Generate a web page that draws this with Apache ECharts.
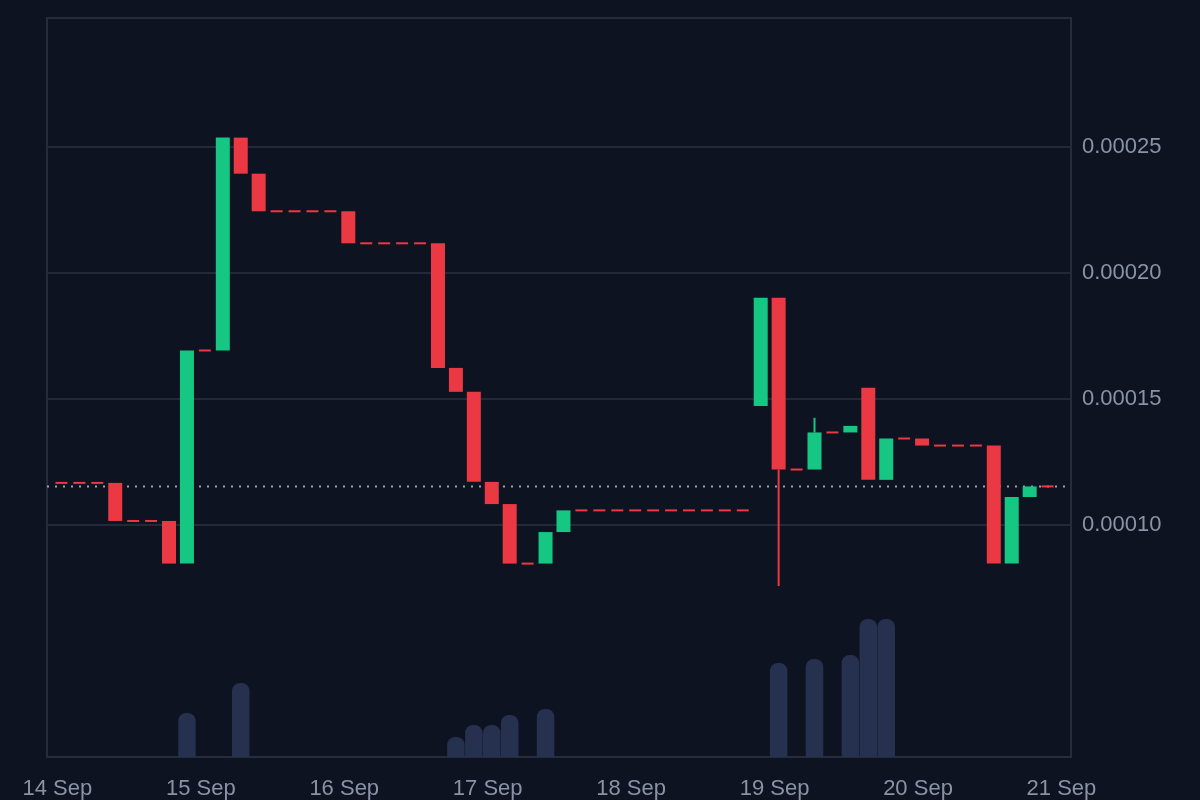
<!DOCTYPE html>
<html>
<head>
<meta charset="utf-8">
<script src="https://cdn.jsdelivr.net/npm/echarts@6/dist/echarts.min.js"></script>
<style>
html,body{margin:0;padding:0;background:#0d1320;}
#chart{width:1200px;height:800px;}
</style>
</head>
<body>
<div id="chart"></div>
<script>
// ---- data (3-hour candles) ----
const startTime = Date.UTC(2024, 8, 14, 0, 41);
const stepHours = 3;
const axisStart = Date.UTC(2024, 8, 13, 22, 16);
const axisEnd = Date.UTC(2024, 8, 21, 1, 36);

const opens = [
  0.0001167, 0.0001167, 0.0001167, 0.0001167, 0.0001016, 0.0001016, 0.0001016, 0.0000847,
  0.0001692, 0.0001692, 0.0002536, 0.0002393, 0.0002244, 0.0002244, 0.0002244, 0.0002244,
  0.0002244, 0.0002117, 0.0002117, 0.0002117, 0.0002117, 0.0002117, 0.0001623, 0.0001528,
  0.0001171, 0.0001083, 0.0000847, 0.0000847, 0.0000972, 0.0001058, 0.0001058, 0.0001058,
  0.0001058, 0.0001058, 0.0001058, 0.0001058, 0.0001058, 0.0001058, 0.0001058, 0.0001472,
  0.0001901, 0.0001220, 0.0001220, 0.0001367, 0.0001367, 0.0001544, 0.0001179, 0.0001343,
  0.0001343, 0.0001315, 0.0001315, 0.0001315, 0.0001315, 0.0000847, 0.0001111, 0.0001153
];
const closes = [
  0.0001167, 0.0001167, 0.0001167, 0.0001016, 0.0001016, 0.0001016, 0.0000847, 0.0001692,
  0.0001692, 0.0002536, 0.0002393, 0.0002244, 0.0002244, 0.0002244, 0.0002244, 0.0002244,
  0.0002117, 0.0002117, 0.0002117, 0.0002117, 0.0002117, 0.0001623, 0.0001528, 0.0001171,
  0.0001083, 0.0000847, 0.0000847, 0.0000972, 0.0001058, 0.0001058, 0.0001058, 0.0001058,
  0.0001058, 0.0001058, 0.0001058, 0.0001058, 0.0001058, 0.0001058, 0.0001058, 0.0001901,
  0.0001220, 0.0001220, 0.0001367, 0.0001367, 0.0001393, 0.0001179, 0.0001343, 0.0001343,
  0.0001315, 0.0001315, 0.0001315, 0.0001315, 0.0000847, 0.0001111, 0.0001153, 0.0001153
];
const lows = [
  0.0001167, 0.0001167, 0.0001167, 0.0001016, 0.0001016, 0.0001016, 0.0000847, 0.0000847,
  0.0001692, 0.0001692, 0.0002393, 0.0002244, 0.0002244, 0.0002244, 0.0002244, 0.0002244,
  0.0002117, 0.0002117, 0.0002117, 0.0002117, 0.0002117, 0.0001623, 0.0001528, 0.0001171,
  0.0001083, 0.0000847, 0.0000847, 0.0000847, 0.0000972, 0.0001058, 0.0001058, 0.0001058,
  0.0001058, 0.0001058, 0.0001058, 0.0001058, 0.0001058, 0.0001058, 0.0001058, 0.0001472,
  0.0000758, 0.0001220, 0.0001220, 0.0001367, 0.0001367, 0.0001179, 0.0001179, 0.0001343,
  0.0001315, 0.0001315, 0.0001315, 0.0001315, 0.0000847, 0.0000847, 0.0001111, 0.0001153
];
const highs = [
  0.0001167, 0.0001167, 0.0001167, 0.0001167, 0.0001016, 0.0001016, 0.0001016, 0.0001692,
  0.0001692, 0.0002536, 0.0002536, 0.0002393, 0.0002244, 0.0002244, 0.0002244, 0.0002244,
  0.0002244, 0.0002117, 0.0002117, 0.0002117, 0.0002117, 0.0002117, 0.0001623, 0.0001528,
  0.0001171, 0.0001083, 0.0000847, 0.0000972, 0.0001058, 0.0001058, 0.0001058, 0.0001058,
  0.0001058, 0.0001058, 0.0001058, 0.0001058, 0.0001058, 0.0001058, 0.0001058, 0.0001901,
  0.0001901, 0.0001220, 0.0001425, 0.0001367, 0.0001393, 0.0001544, 0.0001343, 0.0001343,
  0.0001343, 0.0001315, 0.0001315, 0.0001315, 0.0001315, 0.0001111, 0.0001153, 0.0001153
];
const volumes = [
  0, 0, 0, 0, 0, 0, 0, 44,
  0, 0, 74, 0, 0, 0, 0, 0,
  0, 0, 0, 0, 0, 0, 20, 32,
  32, 42, 0, 48, 0, 0, 0, 0,
  0, 0, 0, 0, 0, 0, 0, 0,
  94, 0, 98, 0, 102, 138, 138, 0,
  0, 0, 0, 0, 0, 0, 0, 0
];
const lastPrice = 0.0001153;
const monthLabel = 'Sep';

// ---- styling ----
const UP = '#16c784', DOWN = '#ea3943';
const BG = '#0d1320';
const GRID_COLOR = '#232938';
const TEXT = '#8a93a5';
const VOL_COLOR = '#26304f';
const FONT = '"Liberation Sans", Arial, Helvetica, sans-serif';

const times = opens.map((_, i) => startTime + i * stepHours * 3600 * 1000);
const candleData = times.map((t, i) => [t, opens[i], closes[i], lows[i], highs[i]]);
const volData = times.map((t, i) => [t, volumes[i]]).filter(d => d[1] > 0);

const chart = echarts.init(document.getElementById('chart'), null, {renderer: 'canvas'});

function renderCandle(params, api) {
  const t = api.value(0), o = api.value(1), c = api.value(2), l = api.value(3), h = api.value(4);
  const pO = api.coord([t, o]);
  const pC = api.coord([t, c]);
  const pL = api.coord([t, l]);
  const pH = api.coord([t, h]);
  const x = pO[0];
  if (o === c) {
    return {
      type: 'rect',
      shape: {x: x - 6, y: pO[1] - 1, width: 12, height: 2},
      style: {fill: DOWN}
    };
  }
  const color = c > o ? UP : DOWN;
  const top = Math.min(pO[1], pC[1]);
  const bot = Math.max(pO[1], pC[1]);
  const children = [];
  if (pH[1] < top - 0.5) {
    children.push({type: 'rect', shape: {x: x - 1, y: pH[1], width: 2, height: top - pH[1]}, style: {fill: color}});
  }
  if (pL[1] > bot + 0.5) {
    children.push({type: 'rect', shape: {x: x - 1, y: bot, width: 2, height: pL[1] - bot}, style: {fill: color}});
  }
  children.push({type: 'rect', shape: {x: x - 7, y: top, width: 14, height: bot - top}, style: {fill: color}});
  return {type: 'group', children};
}

function renderVolume(params, api) {
  const t = api.value(0), v = api.value(1);
  const pTop = api.coord([t, v]);
  const pBase = api.coord([t, 0]);
  const w = 17.5;
  return {
    type: 'rect',
    shape: {x: pTop[0] - w / 2, y: pTop[1], width: w, height: pBase[1] - pTop[1], r: [8, 8, 0, 0]},
    style: {fill: VOL_COLOR}
  };
}

const option = {
  backgroundColor: BG,
  animation: false,
  grid: [
    {left: 47, right: 129, top: 18, bottom: 43, show: true, borderColor: '#262c3a', borderWidth: 2, backgroundColor: 'transparent', containLabel: false},
    {left: 47, right: 129, top: 20.6, bottom: 148.9, containLabel: false}
  ],
  xAxis: [
    {
      type: 'time', gridIndex: 0, min: axisStart, max: axisEnd,
      minInterval: 24 * 3600 * 1000, maxInterval: 24 * 3600 * 1000,
      axisLine: {show: false}, axisTick: {show: false}, splitLine: {show: false},
      axisLabel: {
        color: TEXT, fontSize: 22, fontFamily: FONT, margin: 21, hideOverlap: false,
        formatter: function (v) {
          const d = new Date(v);
          if (d.getUTCHours() !== 0 || d.getUTCMinutes() !== 0) return '';
          return d.getUTCDate() + ' ' + monthLabel;
        }
      }
    },
    {
      type: 'time', gridIndex: 1, min: axisStart, max: axisEnd,
      axisLine: {show: false}, axisTick: {show: false}, splitLine: {show: false}, axisLabel: {show: false}
    }
  ],
  yAxis: [
    {
      type: 'value', gridIndex: 0, min: 0, max: 739, show: false, splitLine: {show: false}
    },
    {
      type: 'value', gridIndex: 1, position: 'right', min: 0.00005, max: 0.0003, interval: 0.00005,
      axisLine: {show: false}, axisTick: {show: false},
      splitLine: {show: true, showMinLine: false, showMaxLine: false, lineStyle: {color: GRID_COLOR, width: 2}},
      axisLabel: {
        color: TEXT, fontSize: 22, fontFamily: FONT, margin: 11, padding: [3, 0, 0, 0],
        showMinLabel: false, showMaxLabel: false,
        formatter: v => (v > 0.00006 && v < 0.00029) ? v.toFixed(5) : ''
      }
    }
  ],
  series: [
    {
      type: 'custom', xAxisIndex: 0, yAxisIndex: 0, data: volData,
      encode: {x: 0, y: 1}, renderItem: renderVolume, silent: true, z: 1
    },
    {
      type: 'line', xAxisIndex: 1, yAxisIndex: 1,
      data: [[axisStart, lastPrice], [axisEnd, lastPrice]],
      showSymbol: false, symbol: 'none', silent: true,
      lineStyle: {color: '#9aa1ad', width: 2, type: [2, 6]}, z: 1
    },
    {
      type: 'custom', xAxisIndex: 1, yAxisIndex: 1, data: candleData,
      encode: {x: 0, y: [1, 2, 3, 4]}, renderItem: renderCandle, z: 5, clip: false
    }
  ]
};
chart.setOption(option);
</script>
</body>
</html>
